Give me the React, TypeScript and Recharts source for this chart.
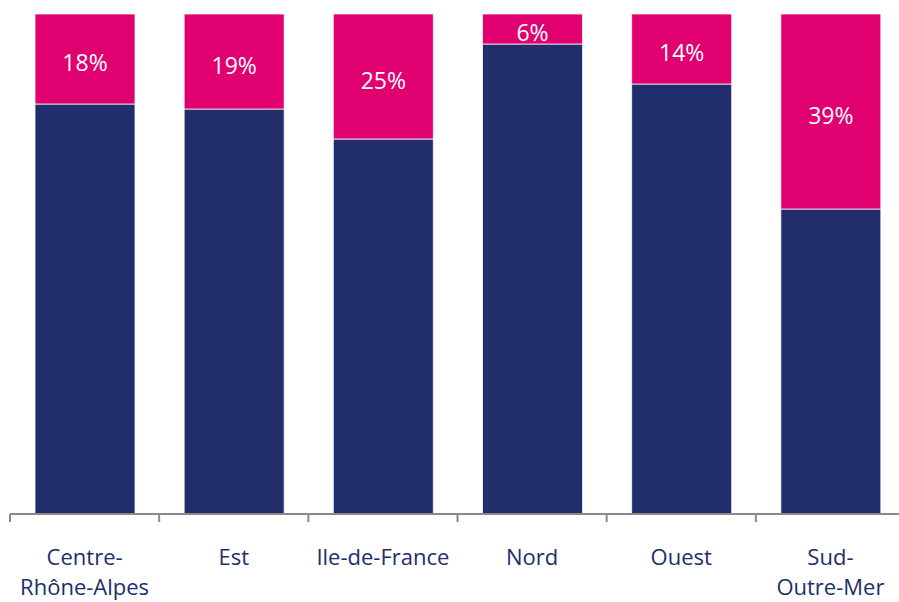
import React from "react";
import { Bar, BarChart, LabelList, XAxis, YAxis } from "recharts";

const regions = ["Centre-\nRhône-Alpes", "Est", "Ile-de-France", "Nord", "Ouest", "Sud-\nOutre-Mer"];
const partBleue = [82, 81, 75, 94, 86, 61];
const partRose = [18, 19, 25, 6, 14, 39];

const data = regions.map((region, i) => ({
  region,
  bleu: partBleue[i],
  rose: partRose[i],
}));

const CHART_W = 905;
const CHART_H = 602;
const MARGE = { top: 14, right: 0, bottom: 0, left: 10 };
const bande = (CHART_W - MARGE.left - MARGE.right) / regions.length;

const FONT = "'Open Sans', sans-serif";
const BLEU = "#212E6B";
const ROSE = "#E1006F";
const GRIS = "#898989";

// eslint-disable-next-line @typescript-eslint/no-explicit-any
const TickRegion = (props: any) => {
  const { x, y, payload, index } = props;
  const lignes = String(payload.value).split("\n");
  const gauche = x - bande / 2;
  return (
    <g>
      <line x1={gauche} x2={gauche} y1={y - 8} y2={y} stroke={GRIS} strokeWidth={2} />
      {index === regions.length - 1 && (
        <line x1={gauche + bande} x2={gauche + bande} y1={y - 8} y2={y} stroke={GRIS} strokeWidth={2} />
      )}
      <text x={x} y={y} textAnchor="middle" fill={BLEU} fontFamily={FONT} fontSize={22}>
        {lignes.map((l, i) => (
          <tspan key={i} x={x} dy={i === 0 ? 43 : 30}>
            {l}
          </tspan>
        ))}
      </text>
    </g>
  );
};

// eslint-disable-next-line @typescript-eslint/no-explicit-any
const LabelPourcent = (props: any) => {
  const { x, y, width, height, value } = props;
  return (
    <text
      x={x + width / 2}
      y={y + height / 2 + 3}
      textAnchor="middle"
      dominantBaseline="central"
      fill="#ffffff"
      fontFamily={FONT}
      fontSize={23}
    >
      {value}%
    </text>
  );
};

const App: React.FC = () => {
  return (
    <div
      style={{
        position: "fixed",
        top: 0,
        left: 0,
        width: 899,
        height: 602,
        overflow: "hidden",
        background: "#fff",
      }}
    >
      <BarChart width={CHART_W} height={CHART_H} data={data} margin={MARGE} barSize={100}>
        <YAxis hide domain={[0, 100]} />
        <XAxis
          dataKey="region"
          interval={0}
          height={88}
          tickSize={8}
          tickMargin={0}
          tickLine={false}
          axisLine={{ stroke: GRIS, strokeWidth: 2 }}
          tick={<TickRegion />}
        />
        <Bar dataKey="bleu" stackId="a" fill={BLEU} stroke="#ffffff" strokeWidth={0.75} isAnimationActive={false} />
        <Bar dataKey="rose" stackId="a" fill={ROSE} stroke="#ffffff" strokeWidth={0.75} isAnimationActive={false}>
          <LabelList dataKey="rose" content={<LabelPourcent />} />
        </Bar>
      </BarChart>
    </div>
  );
};

export default App;
